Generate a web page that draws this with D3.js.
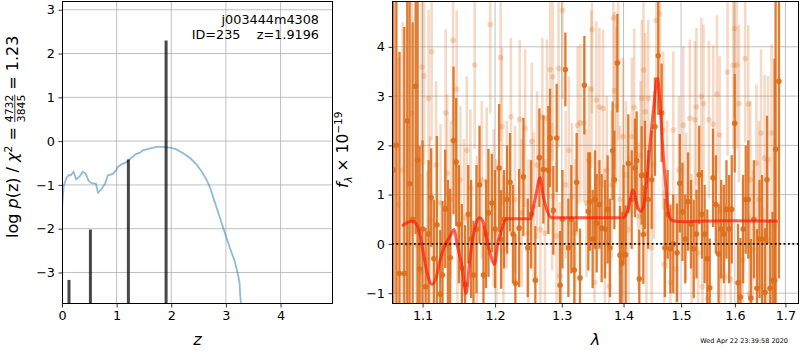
<!DOCTYPE html>
<meta charset="utf-8">
<script src="https://d3js.org/d3.v7.min.js"></script>
<style>
  body { margin: 0; background: #fff; }
  text { font-family: "DejaVu Sans", sans-serif; }
</style>
<div id="chart"></div>
<script>

// ---- left panel: redshift probability ----
var pzZ = [0, 0.03, 0.08, 0.12, 0.16, 0.21, 0.26, 0.32, 0.38, 0.43, 0.49, 0.54, 0.62, 0.66, 0.72, 0.79, 0.84, 0.93, 0.99, 1.02,
           1.09, 1.18, 1.27, 1.36, 1.42, 1.48, 1.60, 1.73, 1.85, 1.98, 2.09, 2.21, 2.34, 2.46, 2.55, 2.64, 2.71, 2.79, 2.88, 2.99,
           3.07, 3.16, 3.22, 3.25, 3.26, 3.29];
var pzLog = [-1.56, -1.03, -0.84, -0.78, -0.78, -0.70, -0.87, -0.81, -0.70, -0.74, -0.91, -0.96, -0.97, -1.18, -1.10, -0.97, -0.78, -0.75, -0.67, -0.59,
             -0.53, -0.48, -0.38, -0.29, -0.27, -0.21, -0.17, -0.13, -0.13, -0.15, -0.19, -0.27, -0.38, -0.53, -0.68, -0.87, -1.06, -1.37, -1.71, -2.13,
             -2.43, -2.74, -3.04, -3.23, -3.50, -3.90];
var peakZ = [0.128, 0.52, 1.215, 1.905];
var peakLog = [-3.17, -2.02, -0.42, 2.30];

// ---- right panel: spectrum ----
var darkLam = [1.062, 1.066, 1.070, 1.0762, 1.0800, 1.0830, 1.0870, 1.0909, 1.0935, 1.0961, 1.1000, 1.1040, 1.1080, 1.1115, 1.1150, 1.1191, 1.1236, 1.1267, 1.1303, 1.1340,
  1.1371, 1.1416, 1.1453, 1.1490, 1.1531, 1.1577, 1.1620, 1.1660, 1.1693, 1.1735, 1.1778, 1.1834, 1.1870, 1.1905, 1.1953, 1.2000, 1.2058, 1.2087, 1.2130, 1.2175,
  1.2218, 1.2260, 1.2296, 1.2351, 1.2415, 1.2480, 1.2530, 1.2594, 1.2655, 1.2716, 1.2792, 1.2818, 1.2869, 1.2921, 1.2973, 1.3010, 1.3056, 1.3103, 1.3150, 1.3197,
  1.3234, 1.3287, 1.3357, 1.3421, 1.3448, 1.3490, 1.3529, 1.3556, 1.3600, 1.3637, 1.3692, 1.3735, 1.3774, 1.3818, 1.3846, 1.3896, 1.3940, 1.3968, 1.4000, 1.4035,
  1.4080, 1.4137, 1.4193, 1.4222, 1.4267, 1.4307, 1.4336, 1.4364, 1.4420, 1.4480, 1.4537, 1.4595, 1.4654, 1.4712, 1.4760, 1.4810, 1.4860, 1.4929, 1.4977, 1.5025,
  1.5075, 1.5127, 1.5180, 1.5230, 1.5280, 1.5330, 1.5380, 1.5430, 1.5480, 1.5525, 1.5587, 1.5640, 1.5690, 1.5740, 1.5790, 1.5840, 1.5890, 1.5940, 1.5997, 1.6061,
  1.6106, 1.6160, 1.6210, 1.6260, 1.6310, 1.6370, 1.6430, 1.6480, 1.6530, 1.6590, 1.6630, 1.6690, 1.6740, 1.6780, 1.6802, 1.6869];
var darkFlux = [1.5, 2.0, -0.6, -0.60, 2.5, 1.22, 0.5, 3.20, 1.70, -0.51, 0.3, -0.87, 0.2, 0.94, -0.3, 0.39, -1.02, -0.63, 0.71, 0.0,
  -0.28, 2.10, 1.66, 0.4, -0.49, -0.82, 0.6, 0.1, -0.63, 0.3, 1.20, -0.63, 0.2, 0.63, 0.83, 0.3, 1.54, 0.09, 0.5, 0.9,
  1.25, 0.2, -0.80, 0.32, 1.36, -0.08, 0.6, -0.74, 1.75, 1.51, 1.50, 2.15, 0.68, 2.15, -0.84, 0.5, 3.54, -0.08, 0.5, -0.53,
  1.25, -0.69, 3.22, 0.66, 0.86, 0.1, 0.90, 0.42, 0.8, 0.32, 0.30, 0.7, -0.08, 1.89, 1.30, 3.67, -0.23, -0.40, 0.6, -0.22,
  1.63, 0.90, 1.54, 1.69, -0.71, 1.39, 0.19, 1.40, 0.9, 1.3, 2.38, 3.82, 2.66, -0.08, 0.6, -0.1, 0.0, -0.18, 1.23, 0.65,
  0.1, 0.86, 0.4, -0.1, 0.2, 1.4, 0.6, 0.2, -0.3, -0.89, 1.34, 0.8, -0.2, 0.3, 0.2, 0.7, 0.3, 0.7, 2.45, -0.79,
  -1.08, 0.3, 0.9, 0.9, -1.1, 0.5, -0.9, 0.1, 0.1, -0.98, 1.3, -0.9, -0.75, -0.74, 1.92, 3.30];
var darkErr = [4.0, 4.5, 4.5, 5.0, 4.0, 4.0, 4.0, 3.0, 3.5, 2.5, 1.8, 1.2, 1.5, 1.0, 1.2, 1.8, 1.3, 1.5, 1.2, 1.3,
  1.4, 1.5, 1.3, 1.2, 1.3, 1.2, 1.0, 1.2, 1.1, 1.3, 1.2, 1.0, 1.1, 1.3, 1.0, 1.2, 1.3, 1.0, 1.0, 1.1,
  1.0, 1.0, 1.0, 1.2, 1.2, 1.0, 1.1, 1.1, 1.0, 1.1, 1.3, 1.0, 0.9, 1.1, 1.1, 1.0, 0.75, 1.0, 1.1, 1.0,
  1.0, 1.0, 1.0, 1.2, 1.0, 1.0, 1.0, 1.0, 0.9, 1.1, 1.0, 1.1, 1.0, 1.0, 1.0, 1.0, 1.0, 0.9, 1.0, 1.0,
  1.0, 1.0, 1.0, 1.0, 1.0, 1.0, 1.0, 1.1, 1.0, 1.0, 1.0, 1.2, 1.0, 1.0, 0.9, 0.9, 1.0, 1.0, 1.0, 1.0,
  0.9, 1.0, 0.9, 1.0, 0.9, 1.0, 0.9, 1.0, 1.0, 1.0, 1.0, 1.0, 1.0, 1.0, 1.0, 1.0, 1.1, 1.1, 1.0, 1.2,
  1.2, 1.1, 1.1, 1.2, 1.2, 1.2, 1.2, 1.2, 1.3, 1.3, 1.3, 1.4, 1.4, 4.5, 4.0, 4.0];

var lightLam = [1.064, 1.068, 1.074, 1.080, 1.086, 1.092, 1.098, 1.099, 1.102, 1.106, 1.108, 1.110, 1.112, 1.118, 1.124, 1.131, 1.133, 1.138, 1.141, 1.146,
  1.147, 1.151, 1.156, 1.160, 1.165, 1.171, 1.174, 1.181, 1.188, 1.193, 1.198, 1.202, 1.208, 1.210, 1.212, 1.217, 1.223, 1.229, 1.236, 1.239,
  1.244, 1.249, 1.254, 1.257, 1.262, 1.267, 1.270, 1.274, 1.277, 1.282, 1.285, 1.286, 1.292, 1.295, 1.297, 1.301, 1.306, 1.311, 1.316, 1.321,
  1.325, 1.329, 1.335, 1.339, 1.343, 1.347, 1.348, 1.352, 1.355, 1.360, 1.366, 1.369, 1.372, 1.376, 1.380, 1.383, 1.385, 1.388, 1.391, 1.394,
  1.399, 1.404, 1.408, 1.414, 1.418, 1.425, 1.429, 1.431, 1.434, 1.437, 1.439, 1.442, 1.448, 1.452, 1.456, 1.462, 1.468, 1.470, 1.475, 1.481,
  1.486, 1.491, 1.496, 1.504, 1.509, 1.516, 1.519, 1.525, 1.528, 1.531, 1.537, 1.539, 1.541, 1.548, 1.551, 1.559, 1.566, 1.571, 1.573, 1.581,
  1.586, 1.592, 1.597, 1.599, 1.604, 1.608, 1.615, 1.620, 1.626, 1.628, 1.630, 1.635, 1.642, 1.647, 1.651, 1.654, 1.658, 1.663, 1.665, 1.672, 1.678];
var lightFlux = [2.0, 0.8, 1.5, 0.0, 2.65, -0.03, -0.59, 3.59, 3.41, -0.32, 2.95, 0.49, 3.90, 1.6, 0.83, 2.66, 1.44, 0.90, 4.13, 3.14,
  -0.01, 1.30, 0.53, 1.9, 1.13, 3.63, 0.29, 1.30, 1.27, 4.45, 0.73, 0.22, 3.78, 2.38, -0.11, 1.0, 2.58, 0.90, 2.53, 0.63,
  2.35, 0.22, 2.08, 0.76, 1.6, 0.29, 2.58, 0.22, 2.55, 3.54, 0.96, 3.39, 0.16, 3.56, -0.65, 4.74, 1.2, 1.9, 0.96, 0.22,
  2.41, 2.46, 2.45, 0.83, 1.7, 3.14, 4.35, -0.78, 2.92, 2.78, 2.75, 0.02, 1.5, -0.86, 1.2, 4.59, 3.11, 2.80, 3.70, 0.90,
  2.18, 1.4, 0.29, 2.18, 2.77, 0.56, 1.8, 2.95, 3.53, 2.68, 0.22, 2.95, -0.08, 1.6, 4.54, 4.67, 2.31, -0.42, 1.0, -0.78,
  2.31, -0.51, 1.5, 2.41, 0.76, 2.55, -0.08, 2.52, 2.78, -0.18, 2.99, -0.87, 2.85, -1.11, 2.52, 2.43, 3.04, 2.21, -0.65, -0.67,
  3.49, -0.72, 3.63, 4.37, 3.63, 2.85, -0.32, 3.76, 2.84, -1.02, 1.30, -0.11, 1.64, 0.90, 2.25, -0.86, 1.74, 0.07, 1.71, 2.25, 0.36];
var lightErr = [3.0, 3.0, 3.0, 2.5, 2.5, 2.2, 2.0, 2.0, 1.8, 1.8, 1.8, 1.7, 1.8, 1.7, 1.6, 1.7, 1.6, 1.6, 1.7, 1.6,
  1.6, 1.5, 1.6, 1.5, 1.6, 1.7, 1.5, 1.6, 1.5, 1.8, 1.6, 1.5, 1.7, 1.6, 1.5, 1.5, 1.6, 1.5, 1.6, 1.5,
  1.6, 1.5, 1.6, 1.5, 1.5, 1.5, 1.6, 1.5, 1.6, 1.7, 1.5, 1.7, 1.5, 1.6, 1.5, 1.8, 1.5, 1.5, 1.5, 1.5,
  1.6, 1.6, 1.6, 1.5, 1.5, 1.6, 1.7, 1.5, 1.6, 1.6, 1.6, 1.5, 1.5, 1.5, 1.5, 1.7, 1.6, 1.6, 1.6, 1.5,
  1.6, 1.5, 1.5, 1.6, 1.6, 1.5, 1.5, 1.6, 1.6, 1.6, 1.5, 1.6, 1.5, 1.5, 1.8, 1.8, 1.6, 1.5, 1.5, 1.5,
  1.6, 1.5, 1.5, 1.6, 1.5, 1.6, 1.5, 1.6, 1.6, 1.5, 1.6, 1.5, 1.6, 1.5, 1.6, 1.6, 1.6, 1.6, 1.5, 1.5,
  1.7, 1.5, 1.7, 1.8, 1.7, 1.6, 1.6, 1.7, 1.6, 1.6, 1.6, 1.6, 1.6, 1.6, 1.7, 1.6, 1.7, 1.6, 1.7, 1.8, 1.8];

var modelLam = [1.0732, 1.0796, 1.0861, 1.0917, 1.0970, 1.1026, 1.1079, 1.1125, 1.1182, 1.1236, 1.1303, 1.1371, 1.1426, 1.1462, 1.1531, 1.1591, 1.1637, 1.1670, 1.1740, 1.1777,
  1.1825, 1.1882, 1.1941, 1.1991, 1.2048, 1.2097, 1.2160, 1.2317, 1.2514, 1.2589, 1.2665, 1.2715, 1.2767, 1.2844, 1.3024, 1.3555, 1.3993, 1.4077, 1.4161, 1.4219,
  1.4287, 1.4332, 1.4391, 1.4448, 1.4517, 1.4581, 1.4622, 1.4669, 1.4727, 1.4785, 1.4856, 1.5034, 1.5278, 1.5898, 1.6845];
var modelFlux = [0.36, 0.43, 0.46, 0.41, 0.15, -0.32, -0.70, -0.82, -0.68, -0.32, -0.01, 0.16, 0.29, 0.02, -0.45, -1.00, -0.38, -0.01, 0.46, 0.53,
  0.46, 0.09, -0.25, -0.42, 0.09, 0.29, 0.51, 0.51, 0.51, 0.90, 1.34, 0.96, 0.70, 0.53, 0.53, 0.53, 0.53, 0.70, 1.10, 0.83,
  0.66, 0.73, 1.23, 1.98, 2.79, 3.36, 2.92, 2.04, 1.17, 0.56, 0.47, 0.45, 0.46, 0.47, 0.46];

var titleLines = ["j003444m4308", "ID=235    z=1.9196"];
var stamp = "Wed Apr 22 23:39:58 2020";

// ---- layout ----
var W = 800, H = 350;
var LB = {x0: 62, x1: 333, y0: 1, y1: 304};
var RB = {x0: 392, x1: 799, y0: 1, y1: 304};
var orange = "#dd6d1a";
var labelSize = 16, smallSize = 10.8;

var svg = d3.select("#chart").append("svg").attr("width", W).attr("height", H);

var xz = d3.scaleLinear().domain([0, 4.96]).range([LB.x0, LB.x1]);
var yp = d3.scaleLinear().domain([-3.72, 3.2]).range([LB.y1, LB.y0]);
var xl = d3.scaleLog().domain([1.0604, 1.728]).range([RB.x0, RB.x1]);
var yf = d3.scaleLinear().domain([-1.22, 4.93]).range([RB.y1, RB.y0]);

var defs = svg.append("defs");
[["clipL", LB], ["clipR", RB]].forEach(function(c) {
  defs.append("clipPath").attr("id", c[0]).append("rect")
    .attr("x", c[1].x0).attr("y", c[1].y0)
    .attr("width", c[1].x1 - c[1].x0).attr("height", c[1].y1 - c[1].y0);
});

function grid(g, box, xs, xt, ys, yt) {
  g.selectAll(".gx").data(xt).enter().append("line")
    .attr("x1", d => xs(d)).attr("x2", d => xs(d))
    .attr("y1", box.y0).attr("y2", box.y1)
    .attr("stroke", "#b0b0b0").attr("stroke-width", 0.8);
  g.selectAll(".gy").data(yt).enter().append("line")
    .attr("y1", d => ys(d)).attr("y2", d => ys(d))
    .attr("x1", box.x0).attr("x2", box.x1)
    .attr("stroke", "#b0b0b0").attr("stroke-width", 0.8);
}

function axes(box, xs, xt, xfmt, ys, yt, yfmt) {
  var gx = svg.append("g").attr("transform", "translate(0," + box.y1 + ")")
    .call(d3.axisBottom(xs).tickValues(xt).tickFormat(xfmt).tickSize(3.5).tickPadding(3.5));
  var gy = svg.append("g").attr("transform", "translate(" + box.x0 + ",0)")
    .call(d3.axisLeft(ys).tickValues(yt).tickFormat(yfmt).tickSize(3.5).tickPadding(3.5));
  [gx, gy].forEach(function(g) {
    g.select(".domain").remove();
    g.selectAll("line").attr("stroke", "#000").attr("stroke-width", 0.8);
    g.selectAll("text").attr("fill", "#000").style("font-size", "12.8px")
      .style("font-family", "'DejaVu Sans', sans-serif");
  });
  svg.append("rect").attr("x", box.x0 + 0.5).attr("y", box.y0 + 0.5)
    .attr("width", box.x1 - box.x0 - 1).attr("height", box.y1 - box.y0 - 1)
    .attr("fill", "none").attr("stroke", "#000").attr("stroke-width", 1);
}

// ---- left panel ----
var zTicks = [0, 1, 2, 3, 4], pTicks = [-3, -2, -1, 0, 1, 2, 3];
var gl = svg.append("g").attr("clip-path", "url(#clipL)");
grid(gl, LB, xz, zTicks, yp, pTicks);

gl.append("path")
  .datum(d3.range(pzZ.length))
  .attr("fill", "none").attr("stroke", "#1f77b4").attr("stroke-opacity", 0.5).attr("stroke-width", 1.8)
  .attr("d", d3.line().x(i => xz(pzZ[i])).y(i => yp(pzLog[i])));

gl.selectAll(".peak").data(d3.range(peakZ.length)).enter().append("line")
  .attr("x1", i => xz(peakZ[i])).attr("x2", i => xz(peakZ[i]))
  .attr("y1", LB.y1).attr("y2", i => yp(peakLog[i]))
  .attr("stroke", "#000").attr("stroke-opacity", 0.72).attr("stroke-width", 3);

axes(LB, xz, zTicks, d3.format("d"), yp, pTicks, d3.format("d"));

svg.selectAll(".ttl").data(titleLines).enter().append("text")
  .attr("x", 319).attr("y", (d, i) => 24 + i * 15)
  .attr("text-anchor", "end").attr("xml:space", "preserve").style("white-space", "pre")
  .style("font-size", "12.8px").text(d => d);

// left y label with stacked fraction
var ylab = svg.append("g").attr("transform", "translate(18,238) rotate(-90)");
var t1 = ylab.append("text").attr("x", 0).attr("y", 0).style("font-size", labelSize + "px");
t1.append("tspan").text("log ");
t1.append("tspan").style("font-style", "italic").text("p");
t1.append("tspan").text("(z) / ");
t1.append("tspan").style("font-style", "italic").text("χ");
t1.append("tspan").attr("dy", -6).style("font-size", smallSize + "px").text("2");
t1.append("tspan").attr("dy", 6).attr("dx", 5).text("=");
var w1 = t1.node().getComputedTextLength() + 10;
var num = ylab.append("text").attr("x", w1).attr("y", -5).style("font-size", smallSize + "px").text("4732");
var den = ylab.append("text").attr("x", w1).attr("y", 7).style("font-size", smallSize + "px").text("3845");
var fw = Math.max(num.node().getComputedTextLength(), den.node().getComputedTextLength());
ylab.append("line").attr("x1", w1).attr("x2", w1 + fw).attr("y1", -3.2).attr("y2", -3.2)
  .attr("stroke", "#000").attr("stroke-width", 0.8);
var t3 = ylab.append("text").attr("x", w1 + fw + 5).attr("y", 0).style("font-size", labelSize + "px");
t3.append("tspan").text("=");
t3.append("tspan").attr("dx", 5).text("1.23");

svg.append("text").attr("x", (LB.x0 + LB.x1) / 2).attr("y", 345)
  .attr("text-anchor", "middle").style("font-size", labelSize + "px").style("font-style", "italic").text("z");

// ---- right panel ----
var lTicks = [1.1, 1.2, 1.3, 1.4, 1.5, 1.6, 1.7], fTicks = [-1, 0, 1, 2, 3, 4];
var gr = svg.append("g").attr("clip-path", "url(#clipR)");
grid(gr, RB, xl, lTicks, yf, fTicks);

var lightIdx = d3.range(lightLam.length);
gr.selectAll(".lbar").data(lightIdx).enter().append("line")
  .attr("x1", i => xl(lightLam[i])).attr("x2", i => xl(lightLam[i]))
  .attr("y1", i => yf(lightFlux[i] - lightErr[i])).attr("y2", i => yf(lightFlux[i] + lightErr[i]))
  .attr("stroke", orange).attr("stroke-opacity", 0.25).attr("stroke-width", 2.6);
gr.selectAll(".ldot").data(lightIdx).enter().append("circle")
  .attr("cx", i => xl(lightLam[i])).attr("cy", i => yf(lightFlux[i])).attr("r", 2.8)
  .attr("fill", orange).attr("fill-opacity", 0.25);

var darkIdx = d3.range(darkLam.length);
gr.selectAll(".dbar").data(darkIdx).enter().append("line")
  .attr("x1", i => xl(darkLam[i])).attr("x2", i => xl(darkLam[i]))
  .attr("y1", i => yf(darkFlux[i] - darkErr[i])).attr("y2", i => yf(darkFlux[i] + darkErr[i]))
  .attr("stroke", orange).attr("stroke-opacity", 0.9).attr("stroke-width", 2.3);
gr.selectAll(".ddot").data(darkIdx).enter().append("circle")
  .attr("cx", i => xl(darkLam[i])).attr("cy", i => yf(darkFlux[i])).attr("r", 2.8)
  .attr("fill", orange).attr("fill-opacity", 0.9);

gr.append("path")
  .datum(d3.range(modelLam.length))
  .attr("fill", "none").attr("stroke", "#ff1a0a").attr("stroke-opacity", 0.7).attr("stroke-width", 3)
  .attr("stroke-linejoin", "round")
  .attr("d", d3.line().curve(d3.curveMonotoneX).x(i => xl(modelLam[i])).y(i => yf(modelFlux[i])));

gr.append("line").attr("x1", RB.x0).attr("x2", RB.x1).attr("y1", yf(0)).attr("y2", yf(0))
  .attr("stroke", "#000").attr("stroke-width", 1.8).attr("stroke-dasharray", "1.8,2.6");

axes(RB, xl, lTicks, d3.format(".1f"), yf, fTicks, d3.format("d"));

var ylab2 = svg.append("g").attr("transform", "translate(348,188) rotate(-90)");
var t2 = ylab2.append("text").style("font-size", "15.5px");
t2.append("tspan").style("font-style", "italic").text("f");
t2.append("tspan").attr("dy", 3.5).style("font-size", "10.5px").style("font-style", "italic").text("λ");
t2.append("tspan").attr("dy", -3.5).text(" × 10");
t2.append("tspan").attr("dy", -6.5).style("font-size", "10.5px").text("−19");

svg.append("text").attr("x", (RB.x0 + RB.x1) / 2).attr("y", 345)
  .attr("text-anchor", "middle").style("font-size", labelSize + "px").style("font-style", "italic").text("λ");

svg.append("text").attr("x", 788).attr("y", 343).attr("text-anchor", "end")
  .style("font-size", "6.5px").text(stamp);

</script>
